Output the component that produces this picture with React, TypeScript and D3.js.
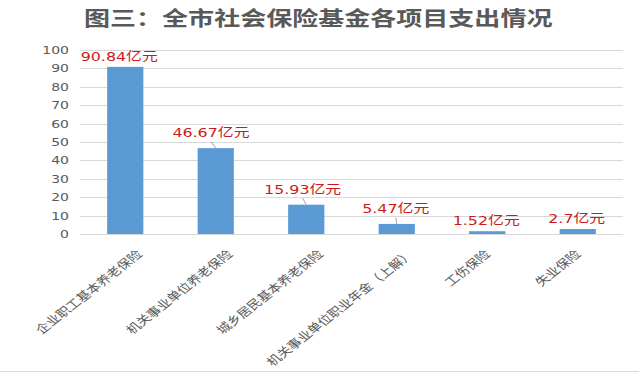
import React from "react";
import * as d3 from "d3";

const title = "图三：全市社会保险基金各项目支出情况";
const categories = [
  "企业职工基本养老保险",
  "机关事业单位养老保险",
  "城乡居民基本养老保险",
  "机关事业单位职业年金（上解）",
  "工伤保险",
  "失业保险",
];
const values = [90.84, 46.67, 15.93, 5.47, 1.52, 2.7];
const valueLabels = ["90.84", "46.67", "15.93", "5.47", "1.52", "2.7"];
const unit = "亿元";
const yTicks = [0, 10, 20, 30, 40, 50, 60, 70, 80, 90, 100];

const WIDTH = 639;
const HEIGHT = 374;
const SX = 1.27; // horizontal stretch of the whole picture
const IW = WIDTH / SX;

const CJK = "'Noto Sans CJK SC', sans-serif";
const LATIN = "'DejaVu Sans', 'Noto Sans CJK SC', sans-serif";

export default function App() {
  const x = d3
    .scaleBand<string>()
    .domain(categories)
    .range([80 / SX, 623 / SX])
    .paddingInner(0.6)
    .paddingOuter(0.3);
  const y = d3.scaleLinear().domain([0, 100]).range([234, 50]);

  return (
    <svg
      width={WIDTH}
      height={HEIGHT}
      style={{ position: "absolute", left: 0, top: 0, background: "#fff" }}
    >
      <rect width={WIDTH} height={HEIGHT} fill="#fff" />
      <line x1={0} x2={WIDTH} y1={371.5} y2={371.5} stroke="#d9d9d9" strokeWidth={1} />
      <g transform={`scale(${SX},1)`}>
        <text
          x={IW / 2 - 1}
          y={26}
          textAnchor="middle"
          fontFamily={CJK}
          fontWeight="bold"
          fontSize={20.5}
          fill="#595959"
        >
          {title}
        </text>
        {yTicks.map((t) => (
          <g key={t}>
            <line
              x1={x.range()[0]}
              x2={x.range()[1]}
              y1={Math.round(y(t)) + 0.5}
              y2={Math.round(y(t)) + 0.5}
              stroke="#d9d9d9"
              strokeWidth={1}
            />
            <text
              x={69 / SX}
              y={y(t)}
              dy="0.36em"
              textAnchor="end"
              fontFamily={LATIN}
              fontSize={11}
              fill="#595959"
            >
              {t}
            </text>
          </g>
        ))}
        {categories.map((c, i) => {
          const bx = x(c)!;
          const bw = x.bandwidth();
          const cx = bx + bw / 2;
          const top = y(values[i]);
          const leader = values[i] > 5 && values[i] < 60;
          const ly = top - (leader ? 15.5 : 10.5);
          const lx = cx - (i < 3 ? 6 - 1.2 * i : 1) / SX;
          const n = c.length;
          const off = Math.min(18, 4 + (n - 4) * 2.3) / SX;
          return (
            <g key={c}>
              <rect x={bx} y={top} width={bw} height={y(0) - top} fill="#5b9bd5" />
              {leader && (
                <line
                  x1={lx}
                  y1={ly + 9}
                  x2={cx}
                  y2={top}
                  stroke="#a6a6a6"
                  strokeWidth={0.8}
                />
              )}
              <text
                x={lx}
                y={ly}
                dy="0.36em"
                textAnchor="middle"
                fontFamily={LATIN}
                fontSize={12.5}
                fill="#cc1a1a"
              >
                {valueLabels[i]}
                <tspan fontFamily={CJK}>{unit}</tspan>
              </text>
              <text
                transform={`translate(${cx + off},255) rotate(-45)`}
                textAnchor="end"
                fontFamily={CJK}
                fontSize={11.3}
                fill="#595959"
              >
                {c}
              </text>
            </g>
          );
        })}
      </g>
    </svg>
  );
}
